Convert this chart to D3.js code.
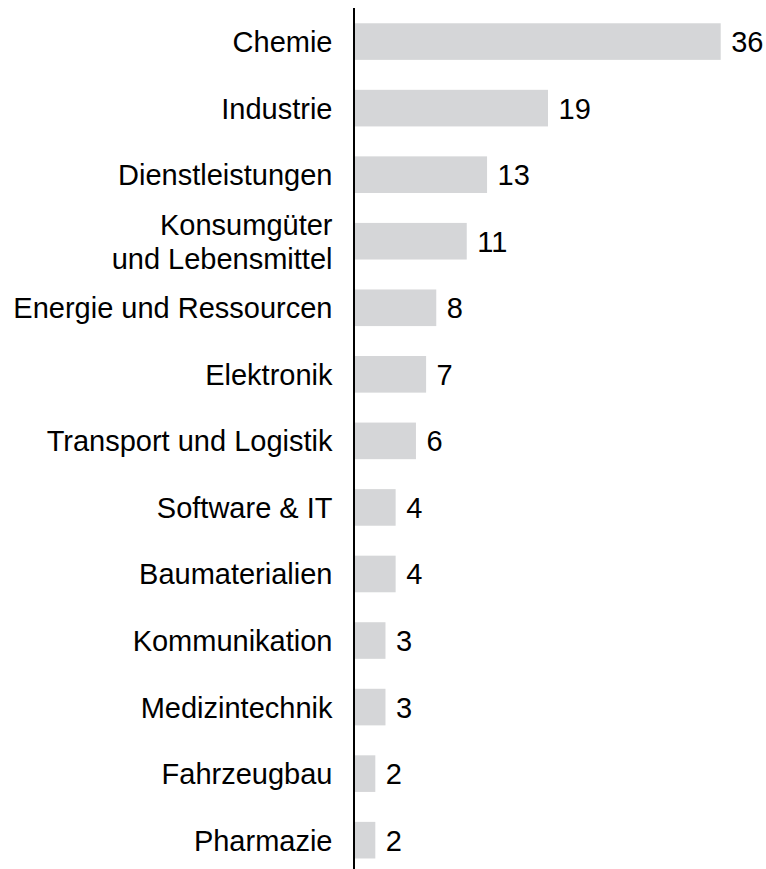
<!DOCTYPE html>
<html>
<head>
<meta charset="utf-8">
<script src="https://cdn.jsdelivr.net/npm/d3@7"></script>
<style>
  body { margin: 0; background: #fff; }
  svg text { font-family: "Liberation Sans", Arial, sans-serif; fill: #000; }
</style>
</head>
<body>
<div id="chart"></div>
<script>
// sectors (top to bottom) and their counts
const sectors = [
  "Chemie", "Industrie", "Dienstleistungen", "Konsumgüter\nund Lebensmittel",
  "Energie und Ressourcen", "Elektronik", "Transport und Logistik", "Software & IT",
  "Baumaterialien", "Kommunikation", "Medizintechnik", "Fahrzeugbau", "Pharmazie"
];
const counts = [36, 19, 13, 11, 8, 7, 6, 4, 4, 3, 3, 2, 2];

const W = 766, H = 869;
const x0 = 355;            // where bars start (just right of the axis line)
const fontSize = 29;

const svg = d3.select("#chart").append("svg")
  .attr("width", W)
  .attr("height", H);

const data = sectors.map((s, i) => ({ label: s, value: counts[i] }));

const x = d3.scaleLinear()
  .domain([0, 36])
  .range([x0, 720.7]);

const y = d3.scaleBand()
  .domain(sectors)
  .range([8.3, 8.3 + 13 * 66.55])
  .paddingInner(0.45)
  .paddingOuter(0.225);

// bars
svg.selectAll("rect.bar")
  .data(data)
  .enter()
  .append("rect")
  .attr("class", "bar")
  .attr("x", x(0))
  .attr("y", d => y(d.label))
  .attr("width", d => x(d.value) - x(0))
  .attr("height", y.bandwidth())
  .attr("fill", "#d5d6d8");

// value labels
svg.selectAll("text.value")
  .data(data)
  .enter()
  .append("text")
  .attr("class", "value")
  .attr("x", d => x(d.value) + 10.5)
  .attr("y", d => y(d.label) + y.bandwidth() / 2)
  .attr("dy", "0.36em")
  .style("font-size", fontSize + "px")
  .text(d => d.value);

// category labels (some wrap onto two lines)
const labels = svg.selectAll("text.cat")
  .data(data)
  .enter()
  .append("text")
  .attr("class", "cat")
  .attr("text-anchor", "end")
  .style("font-size", fontSize + "px")
  .attr("y", d => y(d.label) + y.bandwidth() / 2);

labels.each(function(d) {
  const lines = d.label.split("\n");
  const lh = 1.18;
  const t = d3.select(this);
  lines.forEach((line, i) => {
    t.append("tspan")
      .attr("x", 332.5)
      .attr("dy", i === 0 ? (0.36 - (lines.length - 1) * lh / 2) + "em" : lh + "em")
      .text(line);
  });
});

// vertical axis line
svg.append("line")
  .attr("x1", 354)
  .attr("x2", 354)
  .attr("y1", 8)
  .attr("y2", H)
  .attr("stroke", "#000")
  .attr("stroke-width", 2);
</script>
</body>
</html>
